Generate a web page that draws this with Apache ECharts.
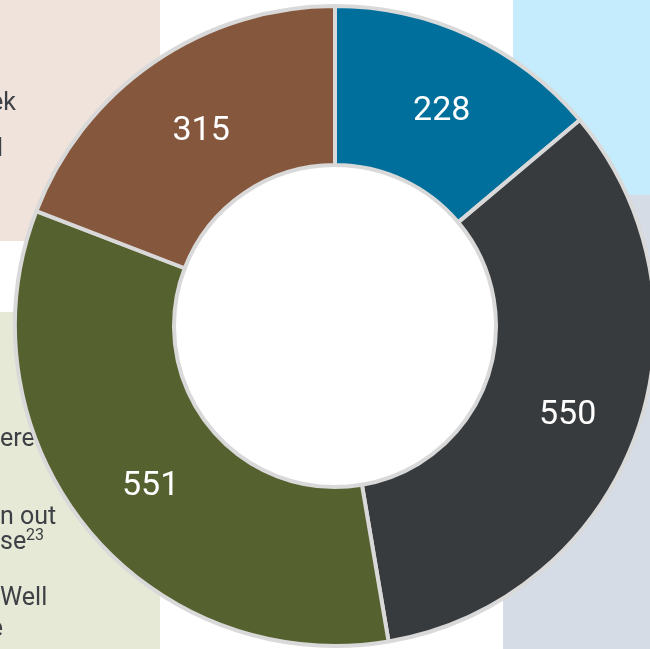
<!DOCTYPE html>
<html>
<head>
<meta charset="utf-8">
<script src="https://cdn.jsdelivr.net/npm/echarts@6/dist/echarts.min.js"></script>
<style>
  html, body { margin: 0; padding: 0; background: #fff; }
  #chart { width: 650px; height: 649px; }
</style>
</head>
<body>
<div id="chart"></div>
<script>
// data
const values = [228, 550, 551, 315]
const names = ['A', 'B', 'C', 'D']
const colors = ['#006f9b', '#383b3e', '#566130', '#85573d']

const chart = echarts.init(document.getElementById('chart'))

const txt = (x, y, s, align, size) => ({
  type: 'text', x: x, y: y, z: 0,
  style: {
    text: s, fill: '#3d4045', fontSize: size || 25, fontFamily: 'Roboto',
    align: align || 'left', verticalAlign: 'middle'
  }
})

chart.setOption({
  animation: false,
  graphic: [
    // background panels
    { type: 'rect', z: 0, shape: { x: 0, y: 0, width: 160, height: 241 }, style: { fill: '#efe3dc' } },
    { type: 'rect', z: 0, shape: { x: 0, y: 312, width: 160, height: 337 }, style: { fill: '#e5e9d6' } },
    { type: 'rect', z: 0, shape: { x: 513, y: 0, width: 137, height: 195 }, style: { fill: '#c5ecfc' } },
    { type: 'rect', z: 0, shape: { x: 503, y: 195, width: 147, height: 454 }, style: { fill: '#d5dce5' } },
    // text behind the ring
    txt(16, 104, 'ek', 'right'),
    txt(3, 150, 'l', 'right'),
    txt(0, 440, 'eresting'),
    txt(0, 518, 'n out'),
    txt(0, 543, 'se'),
    txt(26, 536, '23', 'left', 16),
    txt(0, 599, 'Well'),
    txt(3, 630, 'e', 'right')
  ],
  series: [
    {
      type: 'pie',
      center: [335, 326],
      radius: [161, 320],
      startAngle: 90,
      clockwise: true,
      silent: true,
      data: values.map((v, i) => ({
        name: names[i], value: v,
        itemStyle: { color: colors[i] }
      })),
      itemStyle: { borderColor: '#d9d9d9', borderWidth: 4 },
      label: {
        show: true,
        position: 'inside',
        formatter: '{c}',
        color: '#fff',
        fontSize: 34,
        fontFamily: 'Roboto',
        offset: [4, 6]
      },
      labelLine: { show: false }
    }
  ]
})
</script>
</body>
</html>
